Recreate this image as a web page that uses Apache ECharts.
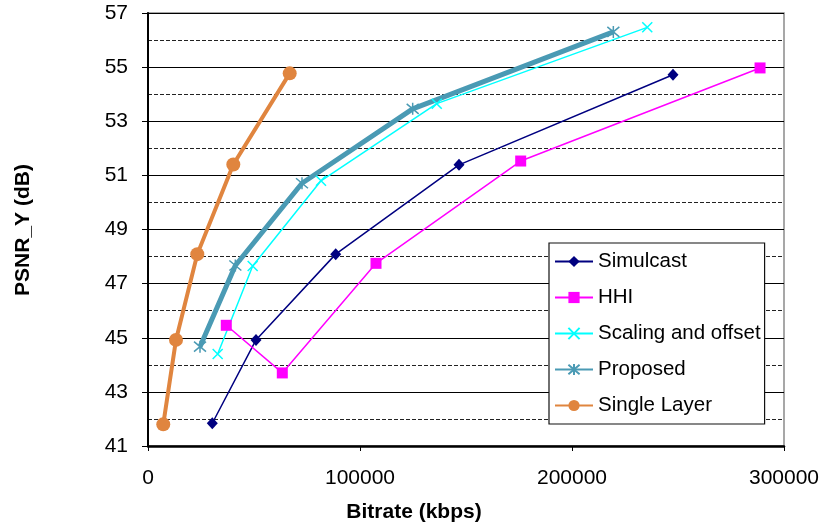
<!DOCTYPE html>
<html>
<head>
<meta charset="utf-8">
<script src="https://cdn.jsdelivr.net/npm/echarts@6/dist/echarts.min.js"></script>
<style>
  html, body { margin: 0; padding: 0; background: #fff; }
  #chart { width: 827px; height: 531px; }
</style>
</head>
<body>
<div id="chart"></div>
<script>
// Rate-distortion curves: bitrate (kbps) vs PSNR_Y (dB)
const seriesNames = ['Simulcast', 'HHI', 'Scaling and offset', 'Proposed', 'Single Layer'];

const simulcastRate = [30330, 50940, 88540, 146700, 247640];
const simulcastPsnr = [41.84, 44.92, 48.09, 51.39, 54.72];

const hhiRate = [36930, 63350, 107550, 175800, 288700];
const hhiPsnr = [45.46, 43.70, 47.75, 51.53, 54.97];

const scalingRate = [32870, 49370, 81600, 136200, 235500];
const scalingPsnr = [44.40, 47.65, 50.80, 53.65, 56.47];

const proposedRate = [24530, 41200, 72640, 124850, 219500];
const proposedPsnr = [44.67, 47.67, 50.71, 53.46, 56.30];

const singleRate = [7200, 13200, 23260, 40240, 66840];
const singlePsnr = [41.80, 44.92, 48.09, 51.40, 54.77];

const xTicks = [0, 100000, 200000, 300000];
const yTicks = [41, 43, 45, 47, 49, 51, 53, 55, 57];

const pairs = (xs, ys) => xs.map((x, i) => [x, ys[i]]);

const FONT = '"Liberation Sans", Arial, sans-serif';
const crossPath = 'path://M0,0L10,10M10,0L0,10';
const starPath = 'path://M0,0L10,10M10,0L0,10M5,-1L5,11';

const chart = echarts.init(document.getElementById('chart'), null, { renderer: 'canvas' });

chart.setOption({
  animation: false,
  textStyle: { fontFamily: FONT },
  grid: {
    left: 148, right: 43, top: 13, bottom: 85,
    show: true, borderColor: '#8a8a8a', borderWidth: 1.5, backgroundColor: 'transparent'
  },
  legend: {
    orient: 'vertical',
    left: 549, top: 243,
    padding: [8, 4, 8, 5],
    itemGap: 15,
    itemWidth: 38, itemHeight: 14,
    backgroundColor: '#fff',
    borderColor: '#111', borderWidth: 1.2,
    textStyle: { fontSize: 20.5, color: '#000', fontFamily: FONT },
    data: seriesNames
  },
  xAxis: {
    type: 'value',
    min: xTicks[0], max: xTicks[xTicks.length - 1], interval: 100000,
    axisLine: { show: true, onZero: false, lineStyle: { color: '#000', width: 2.5 } },
    axisTick: { show: true, inside: false, length: 5, lineStyle: { color: '#000', width: 1 } },
    axisLabel: { margin: 22, fontSize: 21, color: '#000', fontFamily: FONT, formatter: v => String(v) },
    splitLine: { show: false }
  },
  yAxis: {
    type: 'value',
    min: yTicks[0], max: yTicks[yTicks.length - 1], interval: 2,
    axisLine: { show: true, onZero: false, lineStyle: { color: '#000', width: 2 } },
    axisTick: { show: true, inside: false, length: 6, lineStyle: { color: '#000', width: 1 } },
    axisLabel: { margin: 20, fontSize: 21, color: '#000', fontFamily: FONT },
    splitLine: { show: true, lineStyle: { color: '#000', width: 1.2 } },
    minorTick: { show: false, splitNumber: 2 },
    minorSplitLine: { show: true, lineStyle: { color: '#222', width: 1.2, type: [4, 2] } }
  },
  graphic: [
    {
      type: 'text',
      x: 414, y: 512,
      style: {
        text: 'Bitrate (kbps)', fontSize: 21, fontWeight: 'bold', fill: '#000',
        fontFamily: FONT, align: 'center', verticalAlign: 'middle'
      }
    },
    {
      type: 'text',
      x: 23, y: 230, rotation: Math.PI / 2,
      style: {
        text: 'PSNR_Y (dB)', fontSize: 21, fontWeight: 'bold', fill: '#000',
        fontFamily: FONT, align: 'center', verticalAlign: 'middle'
      }
    }
  ],
  series: [
    {
      name: seriesNames[0], type: 'line', data: pairs(simulcastRate, simulcastPsnr),
      symbol: 'diamond', symbolSize: [11, 12],
      lineStyle: { color: '#000080', width: 1.5 },
      itemStyle: { color: '#000080' }
    },
    {
      name: seriesNames[1], type: 'line', data: pairs(hhiRate, hhiPsnr),
      symbol: 'rect', symbolSize: 11,
      lineStyle: { color: '#ff00ff', width: 1.5 },
      itemStyle: { color: '#ff00ff' }
    },
    {
      name: seriesNames[2], type: 'line', data: pairs(scalingRate, scalingPsnr),
      symbol: crossPath, symbolSize: 10,
      lineStyle: { color: '#00ffff', width: 1.5 },
      itemStyle: { color: '#00ffff', borderColor: '#00ffff', borderWidth: 1.5 }
    },
    {
      name: seriesNames[3], type: 'line', data: pairs(proposedRate, proposedPsnr),
      symbol: starPath, symbolSize: 12,
      lineStyle: { color: '#4a9ab4', width: 5 },
      itemStyle: { color: '#4a9ab4', borderColor: '#4a9ab4', borderWidth: 1.5 }
    },
    {
      name: seriesNames[4], type: 'line', data: pairs(singleRate, singlePsnr),
      symbol: 'circle', symbolSize: 14,
      lineStyle: { color: '#e0853f', width: 4 },
      itemStyle: { color: '#e0853f' }
    }
  ]
});
</script>
</body>
</html>
